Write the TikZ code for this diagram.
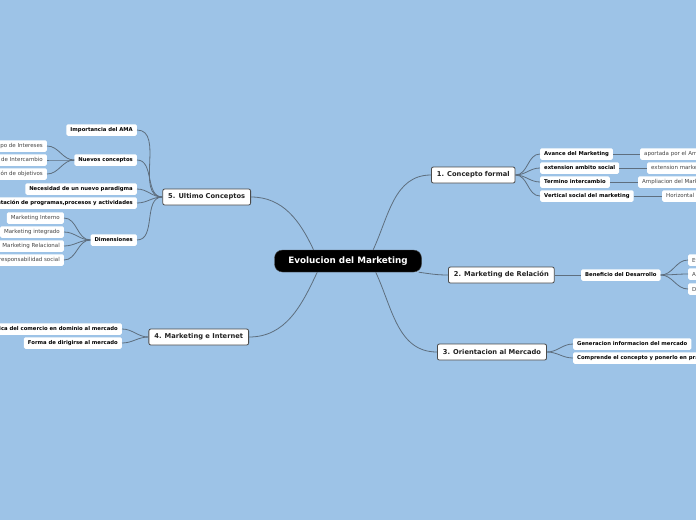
\documentclass[tikz,border=0pt]{standalone}
\usepackage{fontspec}
\setmainfont{DejaVu Sans}
\usetikzlibrary{positioning}
\definecolor{bgblue}{HTML}{9DC3E7}
\definecolor{wire}{HTML}{5E6E7E}
\definecolor{rim}{HTML}{4A4A4A}
\definecolor{ink}{HTML}{222222}
\definecolor{soft}{HTML}{444444}

\begin{document}
\begin{tikzpicture}[x=1pt, y=1pt,
  central/.style={fill=black, draw=rim, rounded corners=8pt, text=white,
    font=\fontsize{8.8}{10}\selectfont\bfseries, minimum width=147pt, minimum height=22pt, inner sep=0},
  topic/.style={fill=white, draw=rim, line width=0.8pt, rounded corners=2pt, text=ink,
    font=\fontsize{6.7}{8}\selectfont\bfseries, minimum height=16pt, inner xsep=5.5pt, inner ysep=0},
  sub/.style={fill=white, rounded corners=1.5pt, text=black,
    font=\fontsize{5.3}{6}\selectfont\bfseries, minimum height=11.5pt, inner xsep=4pt, inner ysep=0},
  leaf/.style={fill=white, rounded corners=1.5pt, text=soft,
    font=\fontsize{5.5}{6}\selectfont, minimum height=11.5pt, inner xsep=4pt, inner ysep=0},
  link/.style={draw=wire, line width=0.8pt}]
\useasboundingbox (0,0) rectangle (696,-520);
\clip (0,0) rectangle (696,-520);
\fill[bgblue] (0,0) rectangle (696,-520);

% centre and main topics
\node[central] (root) at (348,-261) {Evolucion del Marketing};
\node[topic, anchor=west] (c1) at (431,-175) {1. Concepto formal};
\node[topic, anchor=west] (c2) at (448,-275) {2. Marketing de Relación};
\node[topic, anchor=west] (c3) at (437,-352) {3. Orientacion al Mercado};
\node[topic, anchor=east] (c4) at (249,-337) {4. Marketing e Internet};
\node[topic, anchor=east] (c5) at (251,-197) {5. Ultimo Conceptos};

% 1. Concepto formal
\node[sub, anchor=west] (a1) at (540,-154) {Avance del Marketing};
\node[sub, anchor=west] (a2) at (540,-168) {extension ambito social};
\node[sub, anchor=west] (a3) at (540,-182) {Termino intercambio};
\node[sub, anchor=west] (a4) at (540,-196) {Vertical social del marketing};
\node[leaf, anchor=west] (a1x) at (640,-154) {aportada por el American Marketing Association};
\node[leaf, anchor=west] (a2x) at (647,-168) {extension marketing social};
\node[leaf, anchor=west] (a3x) at (638,-182) {Ampliacion del Marketing};
\node[leaf, anchor=west] (a4x) at (662,-196) {Horizontal social del marketing};

% 2. Marketing de Relacion
\node[sub, anchor=west] (b1) at (581,-275) {Beneficio del Desarrollo};
\node[leaf, anchor=west] (b1x) at (688,-260) {Eficiencia};
\node[leaf, anchor=west] (b1y) at (688,-274) {Aumento de clientes};
\node[leaf, anchor=west] (b1z) at (688,-289) {Desarrollo de relaciones};

% 3. Orientacion al Mercado
\node[sub, anchor=west] (o1) at (573,-344) {Generacion informacion del mercado};
\node[sub, anchor=west] (o2) at (573,-358) {Comprende el concepto y ponerlo en practica};

% 4. Marketing e Internet
\node[sub, anchor=east] (i1) at (122,-329) {Practica del comercio en dominio al mercado};
\node[sub, anchor=east] (i2) at (122,-343) {Forma de dirigirse al mercado};

% 5. Ultimo Conceptos
\node[sub, anchor=east] (u1) at (137,-130) {Importancia del AMA};
\node[sub, anchor=east] (u2) at (137,-160) {Nuevos conceptos};
\node[sub, anchor=east] (u3) at (137,-189) {Necesidad de un nuevo paradigma};
\node[sub, anchor=east] (u4) at (137,-203) {Implementación de programas,procesos y actividades};
\node[sub, anchor=east] (u5) at (137,-240) {Dimensiones};
\node[leaf, anchor=east] (n1) at (47,-146) {Grupo de Intereses};
\node[leaf, anchor=east] (n2) at (47,-160) {Concepto de Intercambio};
\node[leaf, anchor=east] (n3) at (47,-174) {Consecución de objetivos};
\node[leaf, anchor=east] (d1) at (64,-218) {Marketing Interno};
\node[leaf, anchor=east] (d2) at (64,-232) {Marketing integrado};
\node[leaf, anchor=east] (d3) at (64,-246) {Marketing Relacional};
\node[leaf, anchor=east] (d4) at (64,-260) {Marketing de responsabilidad social};

% connectors
\draw[link] (root.24) to[out=65,in=180] (c1.west);
\draw[link] (root.-9) to[out=-8,in=180] (c2.west);
\draw[link] (root.-22) to[out=-65,in=180] (c3.west);
\draw[link] (root.200) to[out=-115,in=0] (c4.east);
\draw[link] (root.162) to[out=115,in=0] (c5.east);
\foreach \k in {a1,a2,a3,a4} \draw[link] (c1.east) to[out=0,in=180] (\k.west);
\foreach \k in {a1,a2,a3,a4} \draw[link] (\k.east) -- (\k x.west);
\draw[link] (c2.east) -- (b1.west);
\foreach \k in {b1x,b1y,b1z} \draw[link] (b1.east) to[out=0,in=180] (\k.west);
\foreach \k in {o1,o2} \draw[link] (c3.east) to[out=0,in=180] (\k.west);
\foreach \k in {i1,i2} \draw[link] (c4.west) to[out=180,in=0] (\k.east);
\foreach \k in {u1,u2,u3,u4,u5} \draw[link] (c5.west) to[out=180,in=0] (\k.east);
\foreach \k in {n1,n2,n3} \draw[link] (u2.west) to[out=180,in=0] (\k.east);
\foreach \k in {d1,d2,d3,d4} \draw[link] (u5.west) to[out=180,in=0] (\k.east);
\end{tikzpicture}
\end{document}
